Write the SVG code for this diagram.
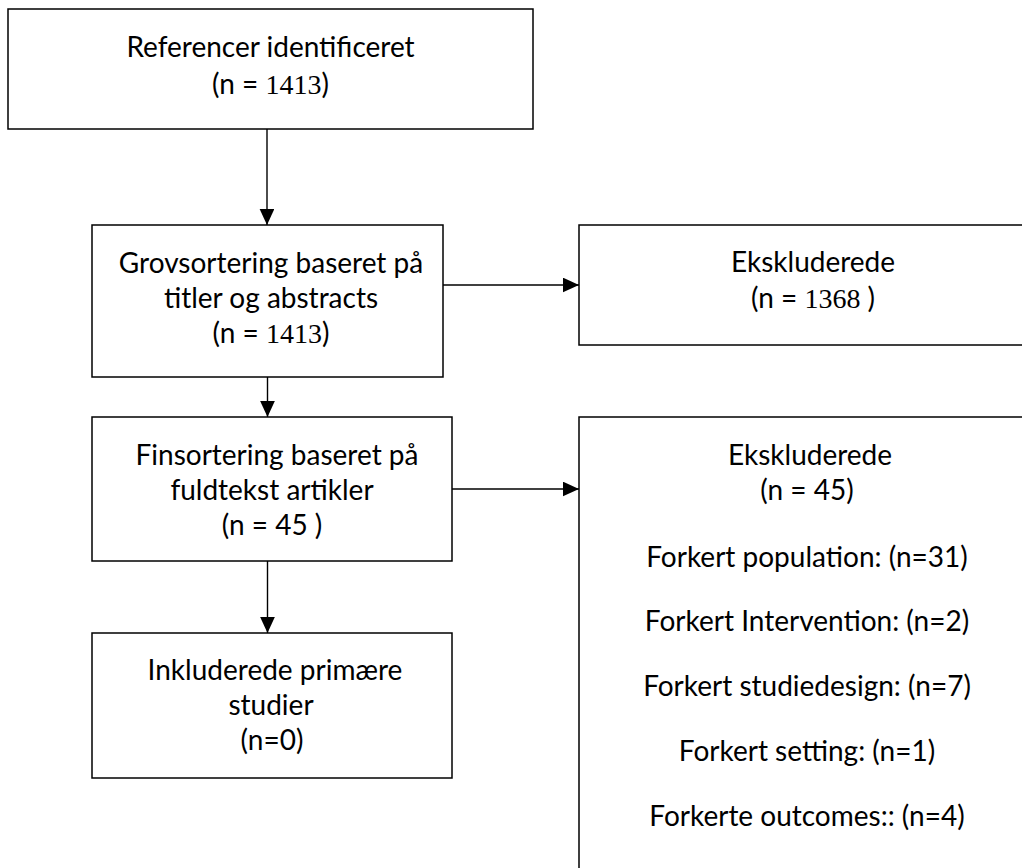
<svg xmlns="http://www.w3.org/2000/svg" width="1022" height="868" viewBox="0 0 1022 868">
<defs>
<style>
.box{fill:#fff;stroke:#000;stroke-width:1.5}
.t{font-family:Lato,"Open Sans",sans-serif;font-size:28px;fill:#000;text-anchor:middle}
.s{font-family:"Liberation Serif",serif}
.c{stroke:#000;stroke-width:1.4;fill:none}
</style>
<marker id="ah" markerUnits="userSpaceOnUse" markerWidth="16" markerHeight="15" refX="16" refY="7.35" orient="auto">
<path d="M0,0 L16,7.35 L0,14.7 z" fill="#000"/>
</marker>
</defs>
<rect width="1022" height="868" fill="#fff"/>
<g id="connectors">
<line class="c" x1="267" y1="129" x2="267" y2="225" marker-end="url(#ah)"/>
<line class="c" x1="267.5" y1="377" x2="267.5" y2="417" marker-end="url(#ah)"/>
<line class="c" x1="267.5" y1="561" x2="267.5" y2="633" marker-end="url(#ah)"/>
<line class="c" x1="443" y1="285" x2="579" y2="285" marker-end="url(#ah)"/>
<line class="c" x1="452" y1="489" x2="579" y2="489" marker-end="url(#ah)"/>
</g>
<g id="n1">
<rect class="box" x="8" y="9" width="525" height="120"/>
<text class="t" x="270.5" y="57">Referencer identificeret</text>
<text class="t" x="270.5" y="94">(n = <tspan class="s">1413</tspan>)</text>
</g>
<g id="n2">
<rect class="box" x="92" y="225" width="351" height="152"/>
<text class="t" x="271" y="273">Grovsortering baseret på</text>
<text class="t" x="271" y="308">titler og abstracts</text>
<text class="t" x="271" y="343">(n = <tspan class="s">1413</tspan>)</text>
</g>
<g id="n3">
<rect class="box" x="579" y="225" width="460" height="120"/>
<text class="t" x="813" y="272">Ekskluderede</text>
<text class="t" x="813" y="308">(n = <tspan class="s">1368</tspan> )</text>
</g>
<g id="n4">
<rect class="box" x="92" y="417" width="360" height="144"/>
<text class="t" x="277" y="465">Finsortering baseret på</text>
<text class="t" x="272" y="500">fuldtekst artikler</text>
<text class="t" x="272" y="535">(n = 45 )</text>
</g>
<g id="n5">
<rect class="box" x="579" y="417" width="460" height="470"/>
<text class="t" x="810" y="465">Ekskluderede</text>
<text class="t" x="807" y="500">(n = 45)</text>
<text class="t" x="807" y="567">Forkert population: (n=31)</text>
<text class="t" x="807" y="631">Forkert Intervention: (n=2)</text>
<text class="t" x="807" y="696">Forkert studiedesign: (n=7)</text>
<text class="t" x="807" y="761">Forkert setting: (n=1)</text>
<text class="t" x="807" y="826">Forkerte outcomes:: (n=4)</text>
</g>
<g id="n6">
<rect class="box" x="92" y="633" width="360" height="145"/>
<text class="t" x="275" y="680">Inkluderede primære</text>
<text class="t" x="271" y="715">studier</text>
<text class="t" x="272" y="750">(n=0)</text>
</g>
</svg>
